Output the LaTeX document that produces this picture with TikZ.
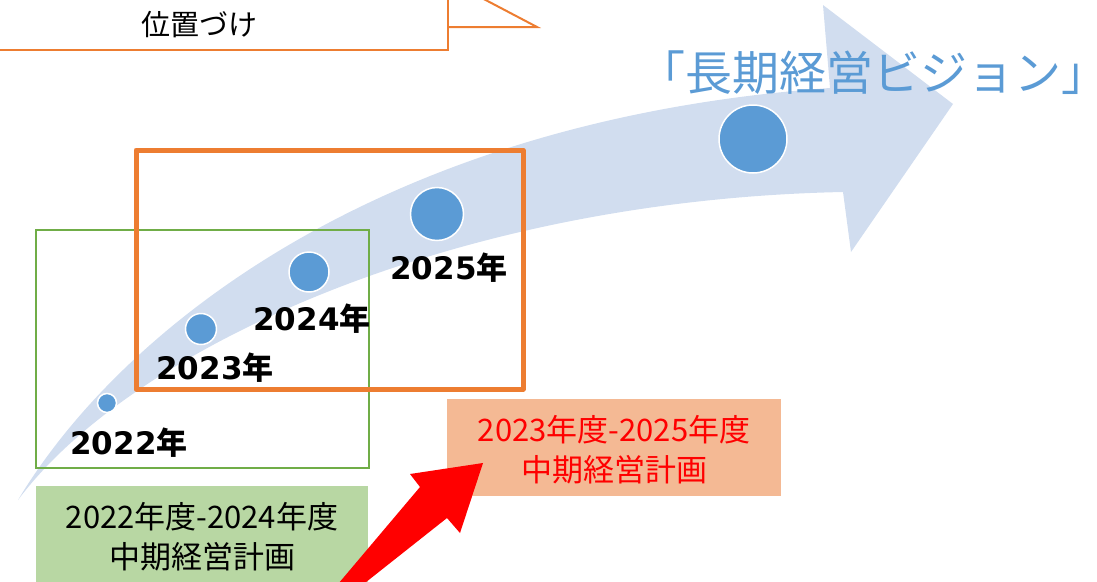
\documentclass[tikz,border=0pt]{standalone}
\usepackage{fontspec}
\setmainfont{Noto Sans CJK JP}
\newfontfamily\jpf{Noto Sans CJK JP}
\newfontfamily\dvf{DejaVu Sans}
\definecolor{bandc}{RGB}{209,221,239}
\definecolor{dotc}{RGB}{91,155,213}
\definecolor{grn}{RGB}{112,173,71}
\definecolor{grnfill}{RGB}{184,215,163}
\definecolor{orn}{RGB}{237,125,49}
\definecolor{salmon}{RGB}{244,185,148}
\definecolor{redc}{RGB}{255,0,0}
\newcommand\yrlab[1]{{\dvf\bfseries #1}{\jpf\bfseries 年}}
\begin{document}
\begin{tikzpicture}[x=1pt,y=-1pt,
  dotn/.style={circle,fill=dotc,draw=white,line width=1.5pt,inner sep=0pt},
  yearlab/.style={inner sep=0pt,font=\fontsize{31}{31}\selectfont,text=black},
  plantext/.style={inner sep=0pt,align=center,font=\fontsize{31}{40}\selectfont}]
\useasboundingbox (0,0) rectangle (1097,581);
\clip (0,0) rectangle (1097,581);
% callout
\draw[orn,line width=2pt] (0,50) -- (448,50) -- (448,-3);
\draw[orn,line width=2pt] (448,27) -- (537,27) -- (478,-4);
\node[inner sep=0pt,font=\fontsize{29}{29}\selectfont] (pos) at (199,25) {位置づけ};
% big curved arrow
\fill[bandc] (18,500) .. controls (130,350) and (450,200) .. (843,192)
  -- (851,252) -- (953,104) -- (823,5) -- (830,88)
  .. controls (380,120) and (120,330) .. (18,500) -- cycle;
% frames
\draw[grn,line width=2pt] (36,230) rectangle (369,468);
\draw[orn,line width=5pt,line join=round] (136,150) rectangle (523,389);
% dots
\node[dotn,minimum size=19pt] (d22) at (107,403) {};
\node[dotn,minimum size=31pt] (d23) at (201,329) {};
\node[dotn,minimum size=40pt] (d24) at (309,272) {};
\node[dotn,minimum size=53pt] (d25) at (437,214) {};
\node[dotn,minimum size=68pt] (dv) at (753,139) {};
% year labels
\node[yearlab] (l22) at (129,443) {\yrlab{2022}};
\node[yearlab] (l23) at (215,368) {\yrlab{2023}};
\node[yearlab] (l24) at (312,319) {\yrlab{2024}};
\node[yearlab] (l25) at (449,268) {\yrlab{2025}};
% title
\node[inner sep=0pt,text=dotc,font=\fontsize{47}{47}\selectfont] (title) at (880,73) {\hspace{-14pt}「長期経営ビジョン」\hspace{-14pt}};
% plan boxes
\fill[grnfill] (36,486) rectangle (368,600);
\node[plantext] (plan1) at (202,537) {2022年度-2024年度\\中期経営計画};
\fill[salmon] (447,399) rectangle (781,496);
\node[plantext,text=redc] (plan2) at (614,450) {2023年度-2025年度\\中期経営計画};
% red arrow
\fill[redc] (333,590) -- (420,487) -- (410,474) -- (483,463) -- (460,533) -- (447,518) -- (356,590) -- cycle;
\end{tikzpicture}
\end{document}
